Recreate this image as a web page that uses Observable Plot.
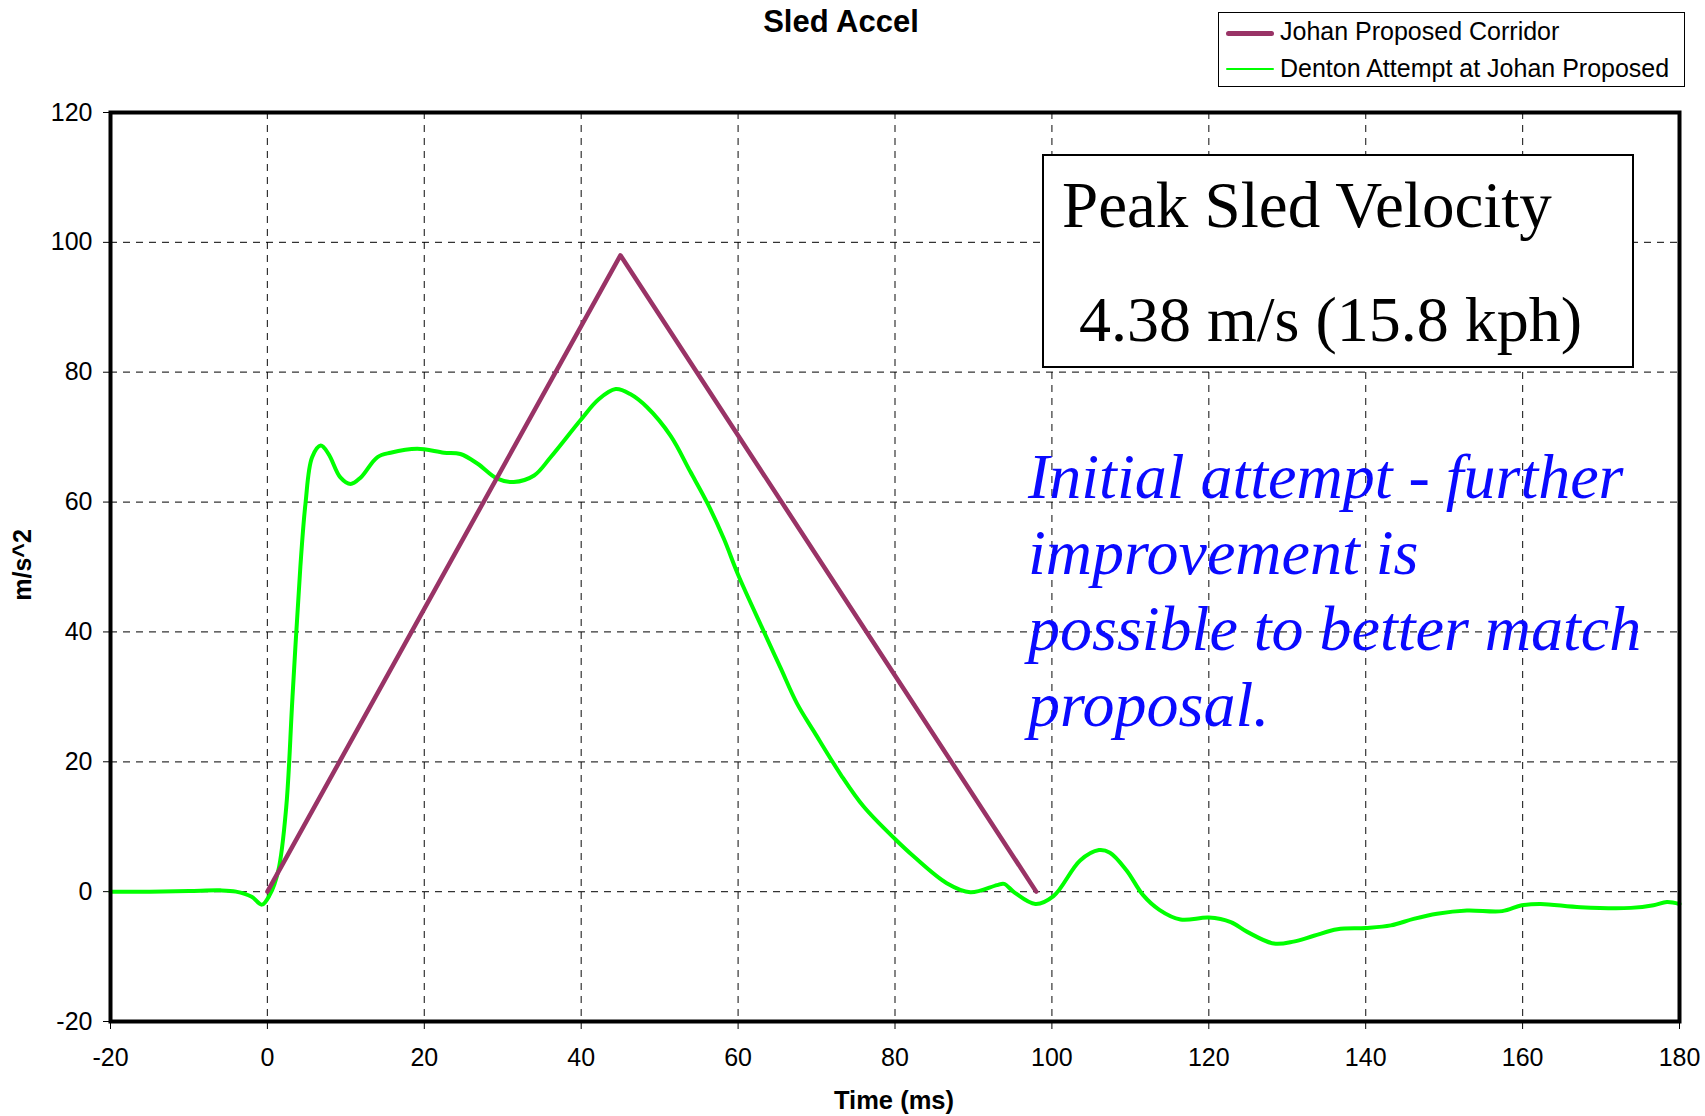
<!DOCTYPE html>
<html><head><meta charset="utf-8">
<script src="https://cdn.jsdelivr.net/npm/d3@7"></script>
<script src="https://cdn.jsdelivr.net/npm/@observablehq/plot@0.6"></script>
<style>
body{margin:0;background:#fff;}
#wrap{position:relative;width:1705px;height:1116px;font-family:"Liberation Sans",Arial,sans-serif;color:#000;overflow:hidden;}
.abs{position:absolute;white-space:nowrap;}
#title{left:0;width:1682px;top:6px;text-align:center;font-weight:bold;font-size:31px;line-height:32px;}
#xlab{left:794px;width:200px;top:1086px;text-align:center;font-weight:bold;font-size:25.5px;line-height:28px;}
#ylab{left:-78px;width:200px;top:551px;text-align:center;font-weight:bold;font-size:25px;line-height:28px;transform:rotate(-90deg);}
#legend{left:1218px;top:12px;width:465px;height:73px;border:1.5px solid #000;background:#fff;}
.lrow{position:absolute;left:0;height:30px;font-size:25px;line-height:30px;}
.sw{position:absolute;left:7px;top:15px;width:48px;}
.lt{position:absolute;left:61px;top:0;}
#peak{left:1042px;top:154px;width:588px;height:210px;border:2px solid #000;background:#fff;font-family:"Liberation Serif","Times New Roman",serif;font-size:65px;}
#note{left:1028px;top:439px;font-family:"Liberation Serif","Times New Roman",serif;font-style:italic;font-size:64px;line-height:76px;color:#0a0aff;}
</style></head><body>
<div id="wrap">
  <div id="chart"></div>
  <div class="abs" id="title">Sled Accel</div>
  <div class="abs" id="xlab">Time (ms)</div>
  <div class="abs" id="ylab">m/s^2</div>
  <div class="abs" id="legend"></div>
  <div class="abs" id="peak">
    <div class="abs" style="left:18px;top:12px;">Peak Sled Velocity</div>
    <div class="abs" style="left:35px;top:127px;font-size:64px;">4.38 m/s (15.8 kph)</div>
  </div>
  <div class="abs" id="note">Initial attempt - further<br>improvement is<br>possible to better match<br>proposal.</div>
</div>
<script>
// ---- data ----
const johanTime = [0, 45, 98];
const johanAccel = [0, 98, 0];

const dentonTime = [-20,-15,-10,-6,-4,-2,-0.7,0.3,1.4,2.4,3.2,4.2,4.85,5.7,6.8,7.8,9.3,10.6,11.9,14,15.7,19.1,22.5,24.6,26.8,29.3,31.4,34,36.1,39.9,42.2,44.4,46.3,48.4,51.4,53.9,56.1,58.2,60,63.3,65.4,67.5,69.7,73.1,76,80,82.4,86.6,89.6,93,93.9,95.2,97.9,100.2,103.6,106,107.4,109.5,111.6,113.7,116.4,120,122.8,124.9,128.3,130.8,133.4,136.4,140,143.2,146.1,149.1,152.9,157.4,159.9,162.3,167.4,173.8,176.7,178.4,180];
const dentonAccel = [0,0,0.1,0.2,0,-0.8,-2,-0.5,3.3,13,30,50,59.7,66.9,68.7,67.4,63.8,62.8,63.8,66.9,67.6,68.2,67.6,67.4,65.9,63.6,63.1,64.1,66.9,72.6,75.8,77.4,76.6,74.6,70.2,64.7,59.8,54.3,48.8,40,34.5,29,24.6,18,13.1,8.1,5.4,1.3,-0.1,1,1.2,-0.1,-1.9,-0.7,4.8,6.4,6,3.3,-0.5,-2.8,-4.3,-4,-4.7,-6.2,-8,-7.7,-6.8,-5.8,-5.6,-5.2,-4.2,-3.4,-2.9,-3,-2.1,-1.9,-2.4,-2.5,-2.1,-1.6,-1.9];

const xTicks = [-20,0,20,40,60,80,100,120,140,160,180];
const yTicks = [-20,0,20,40,60,80,100,120];
const xGrid = [0,20,40,60,80,100,120,140,160];
const yGrid = [0,20,40,60,80,100];

const seriesNames = ["Johan Proposed Corridor", "Denton Attempt at Johan Proposed"];
const seriesColors = ["#993366", "#00ff00"];
const seriesWidths = [4.5, 4];

// ---- build ----
const johan = johanTime.map((t, i) => ({t, a: johanAccel[i]}));
const denton = dentonTime.map((t, i) => ({t, a: dentonAccel[i]}));
const fmt = d => String(d);

const chart = Plot.plot({
  width: 1705,
  height: 1116,
  marginLeft: 110,
  marginRight: 26,
  marginTop: 112,
  marginBottom: 95,
  style: {fontFamily: "'Liberation Sans', Arial, sans-serif", fontSize: "25px", color: "#000", background: "#fff"},
  x: {domain: [-20, 180]},
  y: {domain: [-20, 120]},
  marks: [
    Plot.gridX(xGrid, {stroke: "#000", strokeOpacity: 0.8, strokeWidth: 1.2, strokeDasharray: "7,6"}),
    Plot.gridY(yGrid, {stroke: "#000", strokeOpacity: 0.8, strokeWidth: 1.2, strokeDasharray: "7,6"}),
    Plot.axisX(xTicks, {tickSize: 8, tickPadding: 19, fontSize: 25, label: null, strokeWidth: 1, tickFormat: fmt}),
    Plot.axisY(yTicks, {tickSize: 7, tickPadding: 11, fontSize: 25, label: null, strokeWidth: 1, tickFormat: fmt}),
    Plot.line(denton, {x: "t", y: "a", stroke: seriesColors[1], strokeWidth: seriesWidths[1], curve: "catmull-rom"}),
    Plot.line(johan, {x: "t", y: "a", stroke: seriesColors[0], strokeWidth: seriesWidths[0]}),
    Plot.frame({stroke: "#000", strokeWidth: 4})
  ]
});
document.getElementById("chart").appendChild(chart);

// legend
const leg = document.getElementById("legend");
seriesNames.forEach((name, i) => {
  const row = document.createElement("div");
  row.className = "lrow";
  row.style.top = (3 + i * 37) + "px";
  row.style.width = "100%";
  const sw = document.createElement("div");
  sw.className = "sw";
  sw.style.borderTop = (i === 0 ? 5 : 2.5) + "px solid " + seriesColors[i];
  sw.style.borderRadius = "3px";
  const lt = document.createElement("div");
  lt.className = "lt";
  lt.textContent = name;
  row.appendChild(sw); row.appendChild(lt);
  leg.appendChild(row);
});
</script>
</body></html>
